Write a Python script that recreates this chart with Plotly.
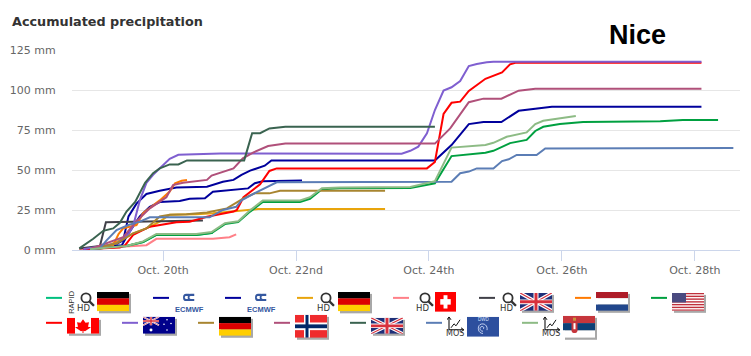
import base64
import plotly.graph_objects as go

# Data: x = day of October, y = accumulated mm
rapid_x = [18.9, 19.45, 19.7, 19.9, 20.5, 20.75]
rapid_y = [0.5, 2.5, 5, 9.4, 9.4, 10.8]
ecmwf1_x = [18.8, 19.2, 19.4, 19.48, 19.6, 19.75, 19.95, 20.2, 20.66, 20.76, 20.9, 21.06, 21.18, 21.31, 21.46, 21.53, 21.63, 24.09, 24.34, 24.6, 24.82, 25.09, 25.35, 25.85, 28.1]
ecmwf1_y = [0.5, 1.5, 6, 21, 29, 35, 37, 39, 39.6, 41, 42.7, 43.8, 47, 49.6, 52, 52.7, 56, 56, 65.6, 78.7, 80, 80, 87, 89.6, 89.6]
ecmwf2_x = [18.8, 19.05, 19.38, 19.48, 19.65, 19.8, 19.95, 20.25, 20.4, 20.63, 20.75, 21.05, 21.28, 21.38, 21.5, 22.09]
ecmwf2_y = [0.5, 2, 3, 10.4, 21, 27, 30, 30.6, 32, 32.3, 36.4, 37.5, 38.5, 41.7, 43, 43.5]
dehd_x = [18.9, 19.05, 19.3, 19.55, 19.75, 19.95, 20.1, 20.5, 20.75, 21.16, 21.31, 21.43, 23.34]
dehd_y = [0.5, 1, 5, 10.4, 13.5, 17.7, 22, 22.3, 23, 24.6, 25, 25.6, 25.6]
ch_x = [18.74, 19.3, 19.75, 19.9, 20.75, 21.0, 21.1]
ch_y = [0.5, 1.7, 3, 7, 7, 8, 9.8]
ukhd_x = [18.74, 19.05, 19.14, 19.55, 20.05, 20.6]
ukhd_y = [1, 2.5, 17.3, 17.7, 18.3, 18.5]
nl_x = [18.9, 19.25, 19.33, 19.4, 19.6, 19.7, 19.95, 20.1, 20.18, 20.28, 20.36]
nl_y = [0.5, 3, 10, 13.5, 15.6, 23, 31, 36.5, 41.7, 43.3, 43.8]
us_x = [18.9, 19.45, 19.7, 19.9, 20.5, 20.73, 20.93, 21.13, 21.31, 21.5, 22.06, 22.21, 22.39, 22.66, 23.72, 23.87, 24.09, 24.34, 24.6, 24.85, 24.97, 25.22, 25.47, 25.6, 25.72, 25.97, 26.32, 27.48, 27.82, 28.35]
us_y = [0.5, 2.5, 5, 9.4, 9.4, 10.6, 16.2, 17.5, 24, 30, 30, 32, 38, 38.6, 38.8, 40, 41.7, 58.7, 60, 60.8, 62, 66.8, 68.8, 74.4, 77, 78.7, 80, 80.4, 81.2, 81.2]
ca_x = [18.8, 19.35, 19.43, 19.5, 19.55, 19.8, 19.95, 20.2, 20.4, 20.66, 21.06, 21.11, 21.21, 21.46, 21.6, 21.71, 23.97, 24.09, 24.22, 24.34, 24.47, 24.6, 24.85, 25.1, 25.22, 25.3, 28.1]
ca_y = [0.5, 1.5, 3, 7, 9.4, 14.6, 15.6, 17.3, 17.7, 20.8, 24, 25, 33, 41, 49.4, 51, 51, 55, 85, 92, 92.7, 99.4, 107, 111, 116, 117, 117]
au_x = [18.8, 19.3, 19.48, 19.55, 19.65, 19.75, 19.85, 20.0, 20.1, 20.23, 20.76, 20.86, 23.59, 23.72, 23.84, 23.97, 24.09, 24.22, 24.34, 24.47, 24.6, 24.72, 24.87, 24.97, 28.1]
au_y = [0.5, 4, 10, 15, 31, 42, 47, 53, 57, 59.5, 60, 60.3, 60.2, 62, 64.6, 73, 87.5, 99.6, 101.7, 105.6, 115, 116.3, 117.3, 117.7, 117.7]
de_x = [18.9, 19.3, 19.55, 19.75, 19.95, 20.1, 20.35, 20.66, 20.96, 21.21, 21.38, 21.6, 21.76, 23.34]
de_y = [0.5, 4, 10.4, 13.5, 21, 22, 22.3, 23.5, 26, 32.3, 35.4, 35.4, 37, 37]
no_x = [18.9, 19.4, 19.6, 19.8, 20.05, 20.15, 20.3, 20.66, 20.73, 20.9, 21.06, 21.2, 21.36, 21.58, 21.84, 24.09, 24.32, 24.6, 24.82, 25.09, 25.35, 25.6, 28.1]
no_y = [0.5, 8, 18, 26, 33, 40.6, 42, 43.8, 46.5, 49, 51, 57.3, 61, 65, 66.5, 66.5, 76, 92.4, 94.6, 94.6, 99.6, 100.8, 100.8]
uk_x = [18.74, 18.95, 19.1, 19.25, 19.35, 19.45, 19.58, 19.73, 19.85, 19.95, 20.1, 20.23, 20.36, 21.22, 21.34, 21.46, 21.6, 21.84, 24.09]
uk_y = [1, 7, 12, 13.5, 17, 24, 30, 42, 48, 51, 53.5, 53.5, 56, 56, 73, 73, 76, 77, 77]
dwd_x = [18.9, 19.05, 19.15, 19.3, 19.48, 19.65, 19.8, 20.7, 20.9, 21.1, 21.18, 21.38, 21.71, 24.34, 24.47, 24.6, 24.72, 24.97, 25.1, 25.2, 25.32, 25.62, 25.75, 28.58]
dwd_y = [0.5, 1, 6, 12.5, 15.6, 17.7, 20.4, 20.4, 25, 27, 31, 35.6, 42.3, 42.7, 48, 49, 51, 51, 55.6, 56.7, 59.4, 59.4, 63.5, 63.7]
rs_x = [18.9, 19.45, 19.7, 19.9, 20.5, 20.73, 20.93, 21.13, 21.31, 21.5, 22.06, 22.21, 22.39, 22.66, 23.72, 23.87, 24.09, 24.34, 24.6, 24.85, 24.97, 25.17, 25.47, 25.6, 25.72, 25.97, 26.21]
rs_y = [0.5, 2.5, 5.4, 10, 10, 11.2, 16.8, 18, 24.8, 31, 31, 33, 38.6, 39, 39.4, 41, 43, 64, 65, 65.6, 67, 70.8, 73.5, 78.7, 80.8, 82.3, 83.7]

series = [
    ("RAPID HD Germany", rapid_x, rapid_y, "#00c07f"),
    ("ECMWF", ecmwf1_x, ecmwf1_y, "#00009c"),
    ("ECMWF 2", ecmwf2_x, ecmwf2_y, "#00009c"),
    ("HD Germany", dehd_x, dehd_y, "#e8a40c"),
    ("HD Switzerland", ch_x, ch_y, "#ff8088"),
    ("HD UK", ukhd_x, ukhd_y, "#404048"),
    ("Netherlands", nl_x, nl_y, "#ff7a00"),
    ("USA", us_x, us_y, "#00a040"),
    ("Canada", ca_x, ca_y, "#ff0000"),
    ("Australia", au_x, au_y, "#7f5fd0"),
    ("Germany", de_x, de_y, "#a88530"),
    ("Norway", no_x, no_y, "#b0507a"),
    ("UK", uk_x, uk_y, "#3a6350"),
    ("MOS DWD", dwd_x, dwd_y, "#5b7db5"),
    ("MOS Serbia", rs_x, rs_y, "#8dbb85"),
]
tick_days = [20, 22, 24, 26, 28]
tick_labels = ["Oct. 20th", "Oct. 22nd", "Oct. 24th", "Oct. 26th", "Oct. 28th"]
y_ticks = [0, 25, 50, 75, 100, 125]
y_labels = ["0 mm", "25 mm", "50 mm", "75 mm", "100 mm", "125 mm"]

W, H = 751, 356
L, R, T, B = 72, 740, 49.5, 250

fig = go.Figure()
for name, x, y, c in series:
    fig.add_trace(go.Scatter(x=x, y=y, name=name, mode="lines",
                             line=dict(color=c, width=2), showlegend=False))

def px(x): return (x - L) / (R - L)
def py(y): return (B - y) / (B - T)

shapes, images, notes = [], [], []

def swatch(x0, y, c):
    shapes.append(dict(type="line", xref="paper", yref="paper", x0=px(x0), x1=px(x0 + 16),
                       y0=py(y), y1=py(y), line=dict(color=c, width=2)))

def svg_img(x, y, w, h, body, vw=None, vh=None):
    vw = vw or w; vh = vh or h
    s = f'<svg xmlns="http://www.w3.org/2000/svg" width="{w*3}" height="{h*3}" viewBox="0 0 {vw} {vh}" preserveAspectRatio="none">{body}</svg>'
    src = "data:image/svg+xml;base64," + base64.b64encode(s.encode()).decode()
    images.append(dict(source=src, xref="paper", yref="paper", x=px(x), y=py(y), sizex=w / (R - L),
                       sizey=h / (B - T), xanchor="left", yanchor="top", sizing="stretch", layer="above"))

def text(x, y, t, size=8, color="#333333", angle=0, font="Liberation Sans", bold=False):
    notes.append(dict(text=f"<b>{t}</b>" if bold else t, xref="paper", yref="paper", x=px(x), y=py(y),
                      showarrow=False, xanchor="center", yanchor="middle", textangle=angle,
                      font=dict(size=size, color=color, family=font)))

UKJ = ('<rect width="32" height="18" fill="#1f2f78"/>'
       '<path d="M0 0L32 18M32 0L0 18" stroke="#fff" stroke-width="3.6"/>'
       '<path d="M0 0L32 18M32 0L0 18" stroke="#d8303c" stroke-width="1.2"/>'
       '<path d="M16 0V18M0 9H32" stroke="#fff" stroke-width="5"/>'
       '<path d="M16 0V18M0 9H32" stroke="#d8303c" stroke-width="3"/>')

def flag(x, y, w, h, body):
    shapes.append(dict(type="rect", xref="paper", yref="paper", x0=px(x + 2), x1=px(x + w + 2),
                       y0=py(y + 2), y1=py(y + h + 2), fillcolor="#a8a8a8", line=dict(width=0), layer="below"))
    svg_img(x, y, w, h, body, 32, 18)

DE = '<rect width="32" height="6" fill="#000"/><rect y="6" width="32" height="6" fill="#dd0000"/><rect y="12" width="32" height="6" fill="#ffce00"/>'
CH = '<rect width="32" height="18" fill="#ff0000"/><rect x="13" y="3" width="6" height="12" fill="#fff"/><rect x="8" y="6.5" width="16" height="5" fill="#fff"/>'
NL = '<rect width="32" height="6" fill="#ae1c28"/><rect y="6" width="32" height="6" fill="#fff"/><rect y="12" width="32" height="6" fill="#21468b"/>'
US = ('<rect width="32" height="18" fill="#fff"/>' +
      "".join(f'<rect y="{i*2.77:.2f}" width="32" height="1.4" fill="#c0303c"/>' for i in range(7)) +
      '<rect width="14" height="9.6" fill="#4a4a80"/>')
CA = '<rect width="32" height="18" fill="#fff"/><rect width="8" height="18" fill="#ff0000"/><rect x="24" width="8" height="18" fill="#ff0000"/><path d="M16 1.5L18.5 5.5L22 5L21 10L24 10.5L18 15L16.5 14.5V17H15.5V14.5L14 15L8 10.5L11 10L10 5L13.5 5.5Z" fill="#ff0000"/>'
AU = ('<rect width="32" height="18" fill="#00008b"/>'
      '<g transform="scale(0.5)">' + UKJ.replace('fill="#1f2f78"', 'fill="#00008b"') + '</g>'
      '<circle cx="8" cy="14" r="1.5" fill="#fff"/><circle cx="24" cy="3" r="0.8" fill="#fff"/><circle cx="28" cy="7" r="0.8" fill="#fff"/>'
      '<circle cx="21" cy="8" r="0.8" fill="#fff"/><circle cx="24" cy="14" r="0.8" fill="#fff"/>')
NO = ('<rect width="32" height="18" fill="#ef2b2d"/><rect x="9" width="6" height="18" fill="#fff"/><rect y="6" width="32" height="6" fill="#fff"/>'
      '<rect x="10.5" width="3" height="18" fill="#002868"/><rect y="7.5" width="32" height="3" fill="#002868"/>')
DWD = ('<rect width="32" height="18" fill="#2d4f9e"/>'
       '<path d="M16 13C13 13 12 10 14 9C16 8 18 10 16 11M16 15C11 15 10 9 13 7C17 5 21 8 20 12" fill="none" stroke="#dbe6ff" stroke-width="0.8"/>')
RS = ('<rect width="32" height="6" fill="#c6363c"/><rect y="6" width="32" height="6" fill="#0c4076"/><rect y="12" width="32" height="6" fill="#fff"/>'
      '<rect x="8.5" y="4" width="6" height="10" rx="2" fill="#c6363c"/><rect x="10" y="1.5" width="3" height="2.5" fill="#c8943c"/>'
      '<rect x="10.5" y="6" width="2" height="5" fill="#fff"/>')

MAG = ('<circle cx="6" cy="6" r="4.6" fill="none" stroke="#333" stroke-width="1.8"/>'
       '<path d="M9.5 9.5L14 14" stroke="#333" stroke-width="2.2"/>')
MOSI = ('<path d="M2 1V13H16" fill="none" stroke="#111" stroke-width="1.1"/>'
        '<path d="M0 3L2 0L4 3M14 11L17 13L14 15" fill="none" stroke="#111" stroke-width="1"/>'
        '<path d="M4 11L7 7L9 9L13 3" fill="none" stroke="#111" stroke-width="1"/>')
ECM = ('<path d="M13 2.5H7C2 2.5 2 9.5 7 9.5H13M21 2.5H15C10 2.5 10 9.5 15 9.5H21" fill="none" stroke="#3558a0" stroke-width="3"/>')

def hd(mx, tx):
    svg_img(mx, 292, 15, 15, MAG)
    text(tx, 308.5, "HD", size=8.5, font="DejaVu Sans")

def ecmwf(cx):
    svg_img(cx - 7, 293, 14, 9, ECM, 24, 12)
    text(cx, 310, "ECMWF", size=7.5, color="#3558a0", bold=True)

def mos(x):
    svg_img(x, 317, 17, 15, MOSI)
    text(x + 8, 333.5, "MOS", size=8, font="DejaVu Sans")

swatches = [
    (46, 298, 0), (153, 298, 1), (225, 298, 2), (297, 298, 3), (393, 298, 4), (479, 298, 5), (575, 298, 6), (651, 298, 7),
    (46, 323, 8), (122, 323, 9), (198, 323, 10), (274, 323, 11), (350, 323, 12), (426, 323, 13), (522, 323, 14),
]
for x, y, i in swatches:
    swatch(x, y, series[i][3])

text(72, 302, "RAPID", size=7.5, angle=-90)
hd(80, 83)
flag(97, 292, 32, 19.5, DE)
ecmwf(189)
ecmwf(261)
hd(320, 323)
flag(338, 292, 32, 19.5, DE)
hd(419, 423)
svg_img(435, 292, 21, 20, CH, 32, 18)
hd(502, 506)
flag(520, 293, 32, 18, UKJ)
flag(596, 292, 32, 19, NL)
flag(672, 293, 32, 18, US)
flag(67, 318, 32, 16, CA)
flag(143, 317, 32, 17, AU)
flag(219, 317, 32, 19, DE)
flag(295, 315, 32, 23, NO)
flag(371, 318, 32, 16, UKJ)
mos(447)
svg_img(467, 317, 32, 20, DWD, 32, 18)
text(483, 319.5, "DWD", size=4.5, color="#dbe6ff")
mos(543)
flag(563, 316, 32, 22, RS)

text(107.5, 20.5, "Accumulated precipitation", size=12.8, color="#333333", font="DejaVu Sans", bold=True)
text(637, 34, "Nice", size=27, color="#000000", font="Liberation Sans", bold=True)

fig.update_layout(
    width=W, height=H, autosize=False, showlegend=False,
    paper_bgcolor="#ffffff", plot_bgcolor="#ffffff",
    margin=dict(l=L, r=W - R, t=T, b=H - B, pad=0),
    shapes=shapes, images=images, annotations=notes,
    font=dict(family="DejaVu Sans", size=11, color="#666666"),
    xaxis=dict(range=[18.63, 28.68], tickvals=tick_days, ticktext=tick_labels, showgrid=False, zeroline=False,
               showline=True, linecolor="#ccd6eb", linewidth=1, ticks="outside", ticklen=10,
               tickcolor="#ccd6eb", tickwidth=1, tickfont=dict(size=11, color="#666666", family="DejaVu Sans")),
    yaxis=dict(range=[0, 125], tickvals=y_ticks, ticktext=y_labels, showgrid=True, gridcolor="#e6e6e6", gridwidth=1,
               zeroline=False, showline=False, ticks="outside", ticklen=13, tickcolor="rgba(0,0,0,0)",
               tickfont=dict(size=11, color="#666666", family="DejaVu Sans")),
)
fig.write_html("out.html", config={"displayModeBar": False}, post_script="document.body.style.margin='0';")
